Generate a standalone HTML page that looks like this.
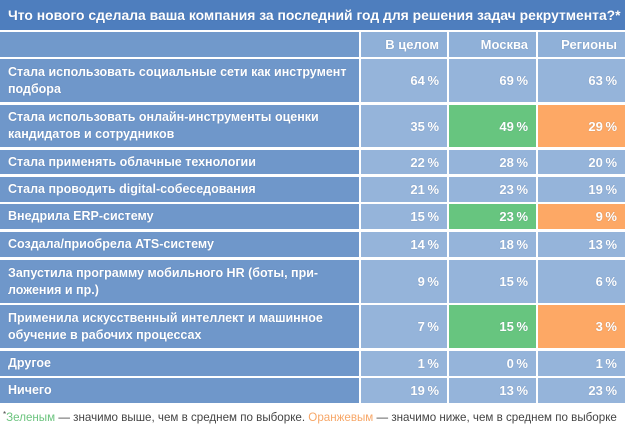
<!DOCTYPE html>
<html><head><meta charset="utf-8">
<style>
html,body{margin:0;padding:0}
body{width:627px;height:425px;background:#fff;position:relative;overflow:hidden;font-family:"Liberation Sans",sans-serif}
.c{position:absolute;display:flex;align-items:center;color:#fff;font-weight:bold;box-sizing:border-box;text-shadow:0 0 1px rgba(40,60,100,.35)}
.t{left:0;top:0;width:625px;height:30px;background:#4e7ebe;padding-left:8px;font-size:13.9px;white-space:nowrap;overflow:hidden}
.l{left:0;width:359px;background:#6f97ca;padding-left:8px;font-size:12.5px;line-height:17px}
.v{background:#95b4da;justify-content:flex-end;padding-right:8px;font-size:13px}
.h{background:#8fb0d8}
.a{left:361px;width:86px}
.b{left:449px;width:87px}
.d{left:538px;width:87px}
.g{background:#67c57f}
.o{background:#fda865}
.f{position:absolute;left:3px;top:411px;font-size:11.6px;color:#444;white-space:nowrap}
.f sup{font-size:8px;vertical-align:top;position:relative;top:-1px}
</style></head><body>
<div class="c t">Что нового сделала ваша компания за последний год для решения задач рекрутмента?*</div>

<div class="c l" style="top:32px;height:25px;background:#7199cb"></div>
<div class="c v h a" style="top:32px;height:25px">В целом</div>
<div class="c v h b" style="top:32px;height:25px">Москва</div>
<div class="c v h d" style="top:32px;height:25px">Регионы</div>

<div class="c l" style="top:59px;height:43px">Стала использовать социальные сети как инструмент<br>подбора</div>
<div class="c v a" style="top:59px;height:43px">64&#8201;%</div>
<div class="c v b" style="top:59px;height:43px">69&#8201;%</div>
<div class="c v d" style="top:59px;height:43px">63&#8201;%</div>

<div class="c l" style="top:105px;height:42px">Стала использовать онлайн-инструменты оценки<br>кандидатов и сотрудников</div>
<div class="c v a" style="top:105px;height:42px">35&#8201;%</div>
<div class="c v b g" style="top:105px;height:42px">49&#8201;%</div>
<div class="c v d o" style="top:105px;height:42px">29&#8201;%</div>

<div class="c l" style="top:150px;height:24px">Стала применять облачные технологии</div>
<div class="c v a" style="top:150px;height:24px">22&#8201;%</div>
<div class="c v b" style="top:150px;height:24px">28&#8201;%</div>
<div class="c v d" style="top:150px;height:24px">20&#8201;%</div>

<div class="c l" style="top:177px;height:25px">Стала проводить digital-собеседования</div>
<div class="c v a" style="top:177px;height:25px">21&#8201;%</div>
<div class="c v b" style="top:177px;height:25px">23&#8201;%</div>
<div class="c v d" style="top:177px;height:25px">19&#8201;%</div>

<div class="c l" style="top:204px;height:25px">Внедрила ERP-систему</div>
<div class="c v a" style="top:204px;height:25px">15&#8201;%</div>
<div class="c v b g" style="top:204px;height:25px">23&#8201;%</div>
<div class="c v d o" style="top:204px;height:25px">9&#8201;%</div>

<div class="c l" style="top:232px;height:25px">Создала/приобрела ATS-систему</div>
<div class="c v a" style="top:232px;height:25px">14&#8201;%</div>
<div class="c v b" style="top:232px;height:25px">18&#8201;%</div>
<div class="c v d" style="top:232px;height:25px">13&#8201;%</div>

<div class="c l" style="top:260px;height:43px">Запустила программу мобильного HR (боты, при-<br>ложения и пр.)</div>
<div class="c v a" style="top:260px;height:43px">9&#8201;%</div>
<div class="c v b" style="top:260px;height:43px">15&#8201;%</div>
<div class="c v d" style="top:260px;height:43px">6&#8201;%</div>

<div class="c l" style="top:305px;height:43px">Применила искусственный интеллект и машинное<br>обучение в рабочих процессах</div>
<div class="c v a" style="top:305px;height:43px">7&#8201;%</div>
<div class="c v b g" style="top:305px;height:43px">15&#8201;%</div>
<div class="c v d o" style="top:305px;height:43px">3&#8201;%</div>

<div class="c l" style="top:351px;height:25px">Другое</div>
<div class="c v a" style="top:351px;height:25px">1&#8201;%</div>
<div class="c v b" style="top:351px;height:25px">0&#8201;%</div>
<div class="c v d" style="top:351px;height:25px">1&#8201;%</div>

<div class="c l" style="top:378px;height:25px">Ничего</div>
<div class="c v a" style="top:378px;height:25px">19&#8201;%</div>
<div class="c v b" style="top:378px;height:25px">13&#8201;%</div>
<div class="c v d" style="top:378px;height:25px">23&#8201;%</div>

<div class="f"><sup>*</sup><span style="color:#6cc47f">Зеленым</span> — значимо выше, чем в среднем по выборке. <span style="color:#f7a768">Оранжевым</span> — значимо ниже, чем в среднем по выборке</div>
</body></html>
